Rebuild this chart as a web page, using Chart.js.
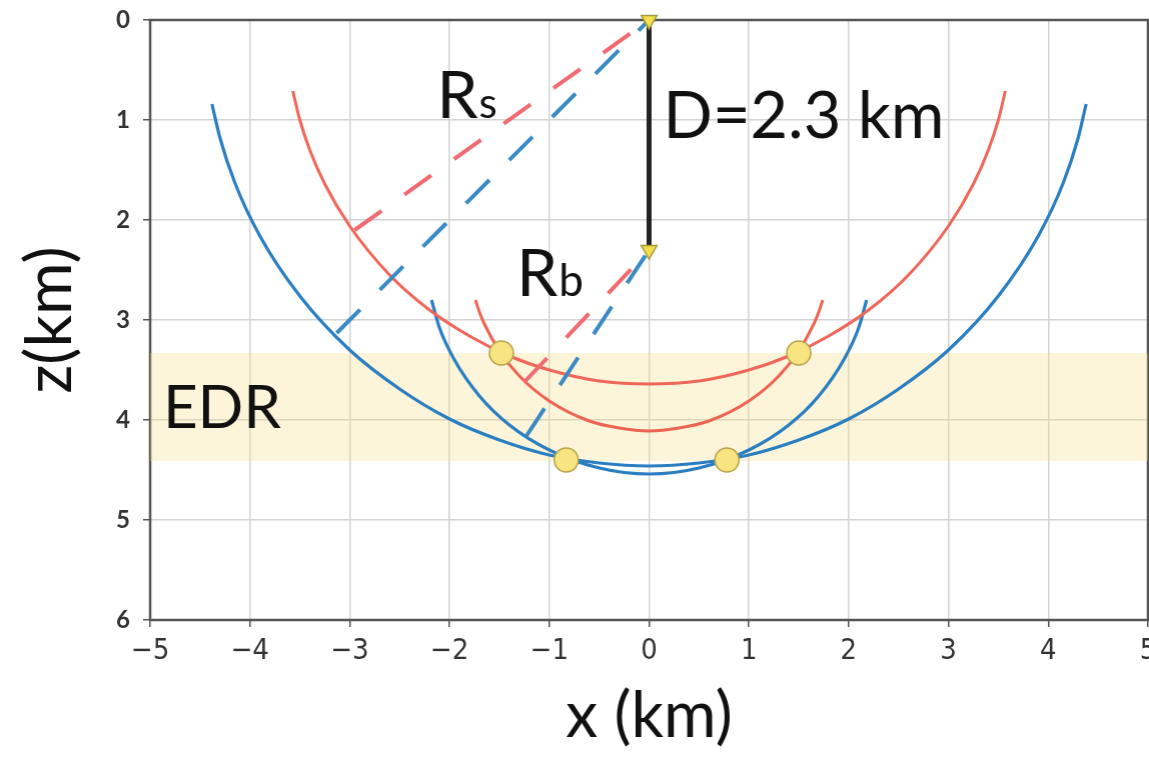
<!DOCTYPE html>
<html lang="en">
<head>
<meta charset="UTF-8">
<title>EDR - Rs / Rb</title>
<style>
  html, body { margin: 0; padding: 0; background: #fff; overflow: hidden; }
  #wrap { width: 1149px; height: 757px; position: relative; }
</style>
</head>
<body>
<div id="wrap"><canvas id="grafico"></canvas></div>

<script src="https://cdn.jsdelivr.net/npm/chart.js@4"></script>
<script>
// valores (x em km, z = profundidade em km)

// arco grande vermelho (Rs, centro na fonte)
const rsVermX = [-3.57, -3.5, -3.4, -3.25, -3.0, -2.6, -2.2, -1.8, -1.4, -1.0, -0.5, 0, 0.5, 1.0, 1.4, 1.8, 2.2, 2.6, 3.0, 3.25, 3.4, 3.5, 3.57];
const rsVermZ = [0.71, 1.00, 1.30, 1.64, 2.06, 2.55, 2.90, 3.16, 3.36, 3.50, 3.61, 3.64, 3.61, 3.50, 3.36, 3.16, 2.90, 2.55, 2.06, 1.64, 1.30, 1.00, 0.71];

// arco grande azul
const rsAzulX = [-4.38, -4.3, -4.15, -3.9, -3.5, -3.0, -2.5, -2.0, -1.5, -1.0, -0.5, 0, 0.5, 1.0, 1.5, 2.0, 2.5, 3.0, 3.5, 3.9, 4.15, 4.3, 4.38];
const rsAzulZ = [0.84, 1.18, 1.63, 2.16, 2.76, 3.30, 3.69, 3.99, 4.20, 4.35, 4.43, 4.46, 4.43, 4.35, 4.20, 3.99, 3.69, 3.30, 2.76, 2.16, 1.63, 1.18, 0.84];

// arco pequeno vermelho (Rb, centro no fundo do poço)
const rbVermX = [-1.74, -1.7, -1.65, -1.5, -1.3, -1.0, -0.6, -0.3, 0, 0.3, 0.6, 1.0, 1.3, 1.5, 1.65, 1.7, 1.74];
const rbVermZ = [2.80, 2.92, 3.04, 3.31, 3.56, 3.81, 4.01, 4.08, 4.11, 4.08, 4.01, 3.81, 3.56, 3.31, 3.04, 2.92, 2.80];

// arco pequeno azul
const rbAzulX = [-2.18, -2.1, -1.95, -1.7, -1.4, -1.0, -0.5, 0, 0.5, 1.0, 1.4, 1.7, 1.95, 2.1, 2.18];
const rbAzulZ = [2.80, 3.08, 3.40, 3.76, 4.05, 4.30, 4.48, 4.54, 4.48, 4.30, 4.05, 3.76, 3.40, 3.08, 2.80];

// raios tracejados (do arco para a fonte)
const raioRsVermX = [-2.95, 0];
const raioRsVermZ = [2.10, 0];
const raioRsAzulX = [-3.13, 0];
const raioRsAzulZ = [3.13, 0];
const raioRbVermX = [-1.25, 0];
const raioRbVermZ = [3.62, 2.3];
const raioRbAzulX = [-1.23, 0];
const raioRbAzulZ = [4.16, 2.3];

// poço (D = 2.3 km)
const pocoX = [0, 0];
const pocoZ = [0, 2.3];

// intersecções (bolinhas amarelas)
const interX = [-1.48, 1.50, -0.83, 0.78];
const interZ = [3.33, 3.33, 4.40, 4.40];

// faixa EDR
const edrX = [-5, 5];
const edrTopo = 3.33;
const edrBase = 4.41;

const fonte = 'Lato, "Open Sans", sans-serif';
const fonteEstreita = '"Liberation Sans Narrow", "DejaVu Sans Condensed", "Liberation Sans", sans-serif';

function pontos(xs, zs) {
  return xs.map((x, i) => ({ x: x, y: zs[i] }));
}

function arco(label, xs, zs, cor, largura) {
  return {
    label: label,
    data: pontos(xs, zs),
    showLine: true,
    borderColor: cor,
    borderWidth: largura,
    pointRadius: 0,
    cubicInterpolationMode: 'monotone',
    fill: false
  };
}

function tracejado(label, xs, zs, cor) {
  return {
    label: label,
    data: pontos(xs, zs),
    showLine: true,
    borderColor: cor,
    borderWidth: 4,
    borderDash: [33, 28],
    borderCapStyle: 'butt',
    pointRadius: 0,
    fill: false
  };
}

// textos dentro do gráfico
const rotulos = [
  { texto: 'R', sub: 's', x: -2.13, z: 0.98, tam: 66, subTam: 42 },
  { texto: 'D=2.3 km', sub: '', x: 0.14, z: 1.18, tam: 65, subTam: 0 },
  { texto: 'R', sub: 'b', x: -1.33, z: 2.76, tam: 66, subTam: 44 },
  { texto: 'EDR', sub: '', x: -4.87, z: 4.08, tam: 60, subTam: 0 }
];

const pluginMoldura = {
  id: 'moldura',
  beforeDatasetsDraw(chart) {
    const { ctx, chartArea } = chart;
    ctx.save();
    ctx.strokeStyle = '#555';
    ctx.lineWidth = 2.5;
    ctx.strokeRect(chartArea.left, chartArea.top, chartArea.right - chartArea.left, chartArea.bottom - chartArea.top);
    ctx.restore();
  }
};

const pluginRotulos = {
  id: 'rotulos',
  afterDatasetsDraw(chart) {
    const { ctx, scales } = chart;
    ctx.save();
    ctx.fillStyle = '#111';
    ctx.textBaseline = 'alphabetic';
    ctx.textAlign = 'left';
    rotulos.forEach(r => {
      const px = scales.x.getPixelForValue(r.x);
      const py = scales.y.getPixelForValue(r.z);
      ctx.font = r.tam + 'px ' + fonte;
      ctx.fillText(r.texto, px, py);
      if (r.sub) {
        const w = ctx.measureText(r.texto).width;
        ctx.font = r.subTam + 'px ' + fonte;
        ctx.fillText(r.sub, px + w + 1, py);
      }
    });
    ctx.restore();
  }
};

const grade = { color: '#d3d3d3', lineWidth: 1.5, tickColor: '#555', tickLength: 7, tickWidth: 1.5 };

const ctx = document.getElementById('grafico').getContext('2d');
const grafico = new Chart(ctx, {
  type: 'scatter',
  data: {
    datasets: [
      {
        label: 'intersecções',
        data: pontos(interX, interZ),
        showLine: false,
        pointStyle: 'circle',
        pointRadius: 12,
        pointBackgroundColor: '#f8e480',
        pointBorderColor: '#b9a14a',
        pointBorderWidth: 1.5,
        clip: false
      },
      {
        label: 'fontes',
        data: pontos(pocoX, pocoZ),
        showLine: false,
        pointStyle: 'triangle',
        rotation: 180,
        pointRadius: 9,
        pointBackgroundColor: '#f1e04a',
        pointBorderColor: '#a8993a',
        pointBorderWidth: 1.5,
        clip: false
      },
      {
        label: 'poço',
        data: pontos(pocoX, pocoZ),
        showLine: true,
        borderColor: '#222',
        borderWidth: 5,
        pointRadius: 0,
        clip: false
      },
      tracejado('Rs vermelho', raioRsVermX, raioRsVermZ, '#f06a72'),
      tracejado('Rs azul', raioRsAzulX, raioRsAzulZ, '#3a8bc4'),
      tracejado('Rb vermelho', raioRbVermX, raioRbVermZ, '#f06a72'),
      tracejado('Rb azul', raioRbAzulX, raioRbAzulZ, '#3a8bc4'),
      arco('arco Rb vermelho', rbVermX, rbVermZ, '#ee6452', 3),
      arco('arco Rs vermelho', rsVermX, rsVermZ, '#ef6759', 3),
      arco('arco Rb azul', rbAzulX, rbAzulZ, '#2a7ec2', 3.2),
      arco('arco Rs azul', rsAzulX, rsAzulZ, '#2a7ec2', 3.2),
      {
        label: 'EDR',
        data: pontos(edrX, [edrTopo, edrTopo]),
        showLine: true,
        borderWidth: 0,
        borderColor: 'rgba(0,0,0,0)',
        pointRadius: 0,
        backgroundColor: 'rgba(250, 222, 130, 0.3)',
        fill: { value: edrBase }
      }
    ]
  },
  options: {
    responsive: true,
    maintainAspectRatio: false,
    animation: false,
    layout: { padding: { top: 20, right: 2, left: 0, bottom: 0 } },
    plugins: {
      legend: { display: false },
      tooltip: { enabled: false }
    },
    scales: {
      x: {
        type: 'linear',
        min: -5,
        max: 5,
        ticks: {
          stepSize: 1,
          color: '#333',
          padding: 7,
          font: { family: fonteEstreita, size: 29 },
          callback: v => (v < 0 ? '\u2212' + Math.abs(v) : String(v))
        },
        grid: grade,
        border: { display: false },
        title: {
          display: true,
          text: 'x (km)',
          color: '#111',
          font: { family: fonte, size: 64 },
          padding: { top: 0, bottom: 2 }
        },
        afterFit: s => { s.height = 137; s.paddingLeft = 0; s.paddingRight = 0; }
      },
      y: {
        type: 'linear',
        reverse: true,
        min: 0,
        max: 6,
        ticks: {
          stepSize: 1,
          color: '#333',
          padding: 13,
          font: { family: fonte, size: 24, weight: 'bold' }
        },
        grid: grade,
        border: { display: false },
        title: {
          display: true,
          text: 'z(km)',
          color: '#111',
          font: { family: fonte, size: 64 },
          padding: { top: 12, bottom: 0 }
        },
        afterFit: s => { s.width = 150; s.paddingTop = 0; s.paddingBottom = 0; }
      }
    }
  },
  plugins: [pluginMoldura, pluginRotulos]
});

// o eixo x deve terminar em x=1147 (o "5" fica cortado na borda, como no original)
const wrap = document.getElementById('wrap');
const sobra = 1147 - grafico.chartArea.right;
if (Math.abs(sobra) > 0.5) {
  wrap.style.width = (1149 + sobra) + 'px';
  grafico.resize();
}
</script>
</body>
</html>
